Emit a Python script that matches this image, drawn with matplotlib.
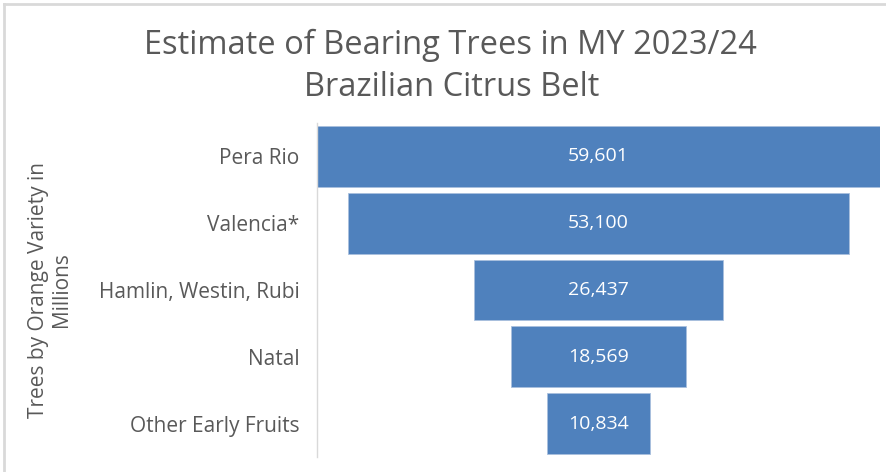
#!/usr/bin/env python3
"""Funnel chart: bearing orange trees by variety, Brazilian citrus belt"""

import matplotlib
matplotlib.use("Agg")
import matplotlib.pyplot as plt
from matplotlib.lines import Line2D

varieties = ["Pera Rio", "Valencia*", "Hamlin, Westin, Rubi", "Natal", "Other Early Fruits"]
trees = [59601, 53100, 26437, 18569, 10834]

BAR_COLOR = "#4F81BD"
TEXT_GRAY = "#595959"
plt.rcParams["font.family"] = ["Open Sans", "DejaVu Sans"]

fig = plt.figure(figsize=(8.87, 4.72), dpi=100)
ax = fig.add_axes([317 / 887, 1 - 457 / 472, (880 - 317) / 887, (457 - 123) / 472])

# centred bars -> funnel
lefts = [-v / 2 for v in trees]
ax.barh(range(len(trees)), trees, left=lefts, height=0.91, color=BAR_COLOR,
        edgecolor="#a9c0de", linewidth=0.6)
for i, v in enumerate(trees):
    ax.text(0, i, f"{v:,}", ha="center", va="center", color="white", fontsize=14)

half = max(trees) / 2
ax.set_xlim(-half * 1.001, half * 1.001)
ax.set_ylim(len(trees) - 0.5, -0.5)
ax.set_yticks(range(len(varieties)))
ax.set_yticklabels(varieties, fontsize=15, color=TEXT_GRAY)
ax.tick_params(axis="y", length=0, pad=12.5)
ax.set_xticks([])
for side in ["top", "right", "bottom"]:
    ax.spines[side].set_visible(False)
ax.spines["left"].set_color("#d9d9d9")
ax.spines["left"].set_linewidth(1)

ax.set_ylabel("Trees by Orange Variety in\nMillions", fontsize=15, color=TEXT_GRAY,
              linespacing=1.15)
ax.yaxis.set_label_coords((72 - 317) / 563, 0.5)

fig.text(450 / 887, 1 - 45 / 472, "Estimate of Bearing Trees in MY 2023/24",
         ha="center", va="center", fontsize=23.5, color=TEXT_GRAY)
fig.text(452 / 887, 1 - 88 / 472, "Brazilian Citrus Belt",
         ha="center", va="center", fontsize=23.5, color=TEXT_GRAY)

# faint chart border (left and top edges only)
fig.add_artist(Line2D([4.5 / 887, 4.5 / 887], [0, 1 - 3.5 / 472], color="#d9d9d9", lw=2,
                      transform=fig.transFigure))
fig.add_artist(Line2D([4.5 / 887, 1], [1 - 3.5 / 472, 1 - 3.5 / 472], color="#d9d9d9", lw=2,
                      transform=fig.transFigure))

fig.savefig("out.png", dpi=100, facecolor="white")
